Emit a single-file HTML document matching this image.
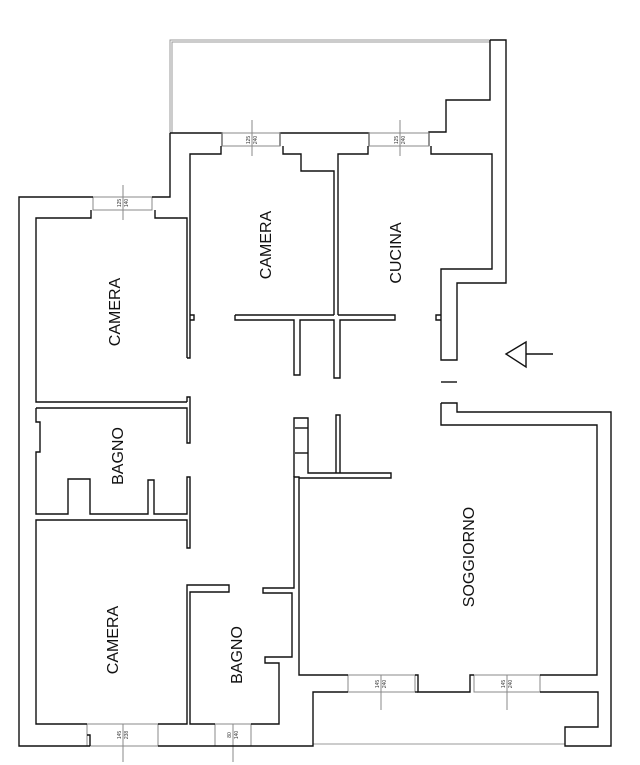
<!DOCTYPE html>
<html><head><meta charset="utf-8"><style>
html,body{margin:0;padding:0;background:#fff;width:640px;height:765px;overflow:hidden}
svg{display:block}
text{font-family:"Liberation Sans",sans-serif}
.l{font-size:16px;fill:#111}
.d{font-size:5px;fill:#333}
</style></head><body>
<svg width="640" height="765" viewBox="0 0 640 765" fill="none" stroke="#111" stroke-width="1.4" stroke-linejoin="miter">
<g stroke="#999" stroke-width="1">
<polyline points="170,133 170,40 490,40"/><polyline points="172,133 172,42 490,42"/>
<line x1="313" y1="744" x2="565" y2="744"/>
</g>
<polyline points="490,40 506,40 506,283 457,283 457,360 441,360 441,269 492,269 492,154 431,154 431,146"/>
<polyline points="490,40 490,100 446,100 446,132 429,132 429,146"/>
<polyline points="170,133 222,133 222,146"/>
<polyline points="280,146 280,133 369,133 369,146"/>
<g stroke="#888" stroke-width="1">
<rect x="222" y="133" width="58" height="13"/><rect x="369" y="133" width="60" height="13"/>
<rect x="93" y="197" width="59" height="13"/>
<rect x="87" y="724" width="71" height="22"/><rect x="215" y="724" width="36" height="22"/>
<rect x="348" y="675" width="67" height="17"/><rect x="474" y="675" width="66" height="17"/>
<line x1="252" y1="120" x2="252" y2="156"/><line x1="400" y1="120" x2="400" y2="156"/>
<line x1="123" y1="185" x2="123" y2="220"/><line x1="123" y1="724" x2="123" y2="762"/>
<line x1="233" y1="724" x2="233" y2="762"/><line x1="381" y1="675" x2="381" y2="710"/>
<line x1="507" y1="675" x2="507" y2="710"/>
</g>
<polyline points="221,146 221,154 190,154 190,358 187,358"/>
<polyline points="283,146 283,154 301,154 301,171 334,171 334,315"/>
<polyline points="368,146 368,154 338,154 338,315"/>
<polyline points="93,197 19,197 19,746 90,746"/>
<polyline points="152,197 170,197 170,133"/>
<polyline points="91,210 91,218 36,218 36,402 187,402"/>
<polyline points="155,210 155,218 187,218 187,358"/>
<polyline points="190,315 194,315 194,320 190,320"/>
<polyline points="235,315 334,315"/><polyline points="338,315 395,315 395,320 340,320 340,378 334,378 334,320 300,320 300,375 294,375 294,320 235,320 235,315"/>
<polyline points="441,315 436,315 436,320 441,320"/>
<line x1="441" y1="382" x2="457" y2="382"/>
<polyline points="36,408 187,408 187,443 190,443 190,397 187,397 187,402"/>
<polyline points="36,408 36,422 40,422 40,452 36,452 36,514 68,514 68,479 90,479 90,514 148,514 148,480 154,480 154,514 187,514 187,477 190,477 190,548 187,548 187,520 36,520 36,724 87,724"/>
<polyline points="158,724 187,724 187,585 229,585 229,592 190,592 190,724 215,724"/>
<polyline points="251,724 279,724 279,663 265,663 265,657 292,657 292,593 263,593 263,588 294,588 294,477 299,477 299,675 348,675"/>
<polyline points="90,746 90,735 87,735"/>
<polyline points="158,746 251,746 313,746 313,692 348,692"/>
<polyline points="294,477 294,418 308,418 308,473 391,473 391,478 299,478"/>
<line x1="295" y1="428" x2="308" y2="428"/><line x1="295" y1="453" x2="308" y2="453"/>
<polyline points="336,473 336,415 340,415 340,473"/>
<polyline points="441,403 457,403 457,412 611,412 611,746 565,746 565,727 598,727 598,692 540,692"/>
<polyline points="441,403 441,425 597,425 597,675 540,675"/>
<polyline points="415,675 418,675 418,692 470,692 470,675 474,675"/>
<polyline points="415,692 418,692"/>
<polygon points="506,354 526,342 526,367"/>
<line x1="526" y1="354" x2="553" y2="354"/>
<g stroke="none">
<text class="l" transform="translate(120,312) rotate(-90)" text-anchor="middle">CAMERA</text>
<text class="l" transform="translate(271,245) rotate(-90)" text-anchor="middle">CAMERA</text>
<text class="l" transform="translate(401,253) rotate(-90)" text-anchor="middle">CUCINA</text>
<text class="l" transform="translate(123,456) rotate(-90)" text-anchor="middle">BAGNO</text>
<text class="l" transform="translate(118,640) rotate(-90)" text-anchor="middle">CAMERA</text>
<text class="l" transform="translate(242,655) rotate(-90)" text-anchor="middle">BAGNO</text>
<text class="l" transform="translate(474,557) rotate(-90)" text-anchor="middle">SOGGIORNO</text>
<g class="d">
<text transform="translate(250,140) rotate(-90)" text-anchor="middle">125</text>
<text transform="translate(257,140) rotate(-90)" text-anchor="middle">240</text>
<text transform="translate(398,140) rotate(-90)" text-anchor="middle">125</text>
<text transform="translate(405,140) rotate(-90)" text-anchor="middle">240</text>
<text transform="translate(121,203) rotate(-90)" text-anchor="middle">125</text>
<text transform="translate(128,203) rotate(-90)" text-anchor="middle">140</text>
<text transform="translate(121,735) rotate(-90)" text-anchor="middle">145</text>
<text transform="translate(128,735) rotate(-90)" text-anchor="middle">238</text>
<text transform="translate(231,735) rotate(-90)" text-anchor="middle">80</text>
<text transform="translate(238,735) rotate(-90)" text-anchor="middle">140</text>
<text transform="translate(379,684) rotate(-90)" text-anchor="middle">145</text>
<text transform="translate(386,684) rotate(-90)" text-anchor="middle">240</text>
<text transform="translate(505,684) rotate(-90)" text-anchor="middle">145</text>
<text transform="translate(512,684) rotate(-90)" text-anchor="middle">240</text>
</g>
</g>
</svg>
</body></html>
